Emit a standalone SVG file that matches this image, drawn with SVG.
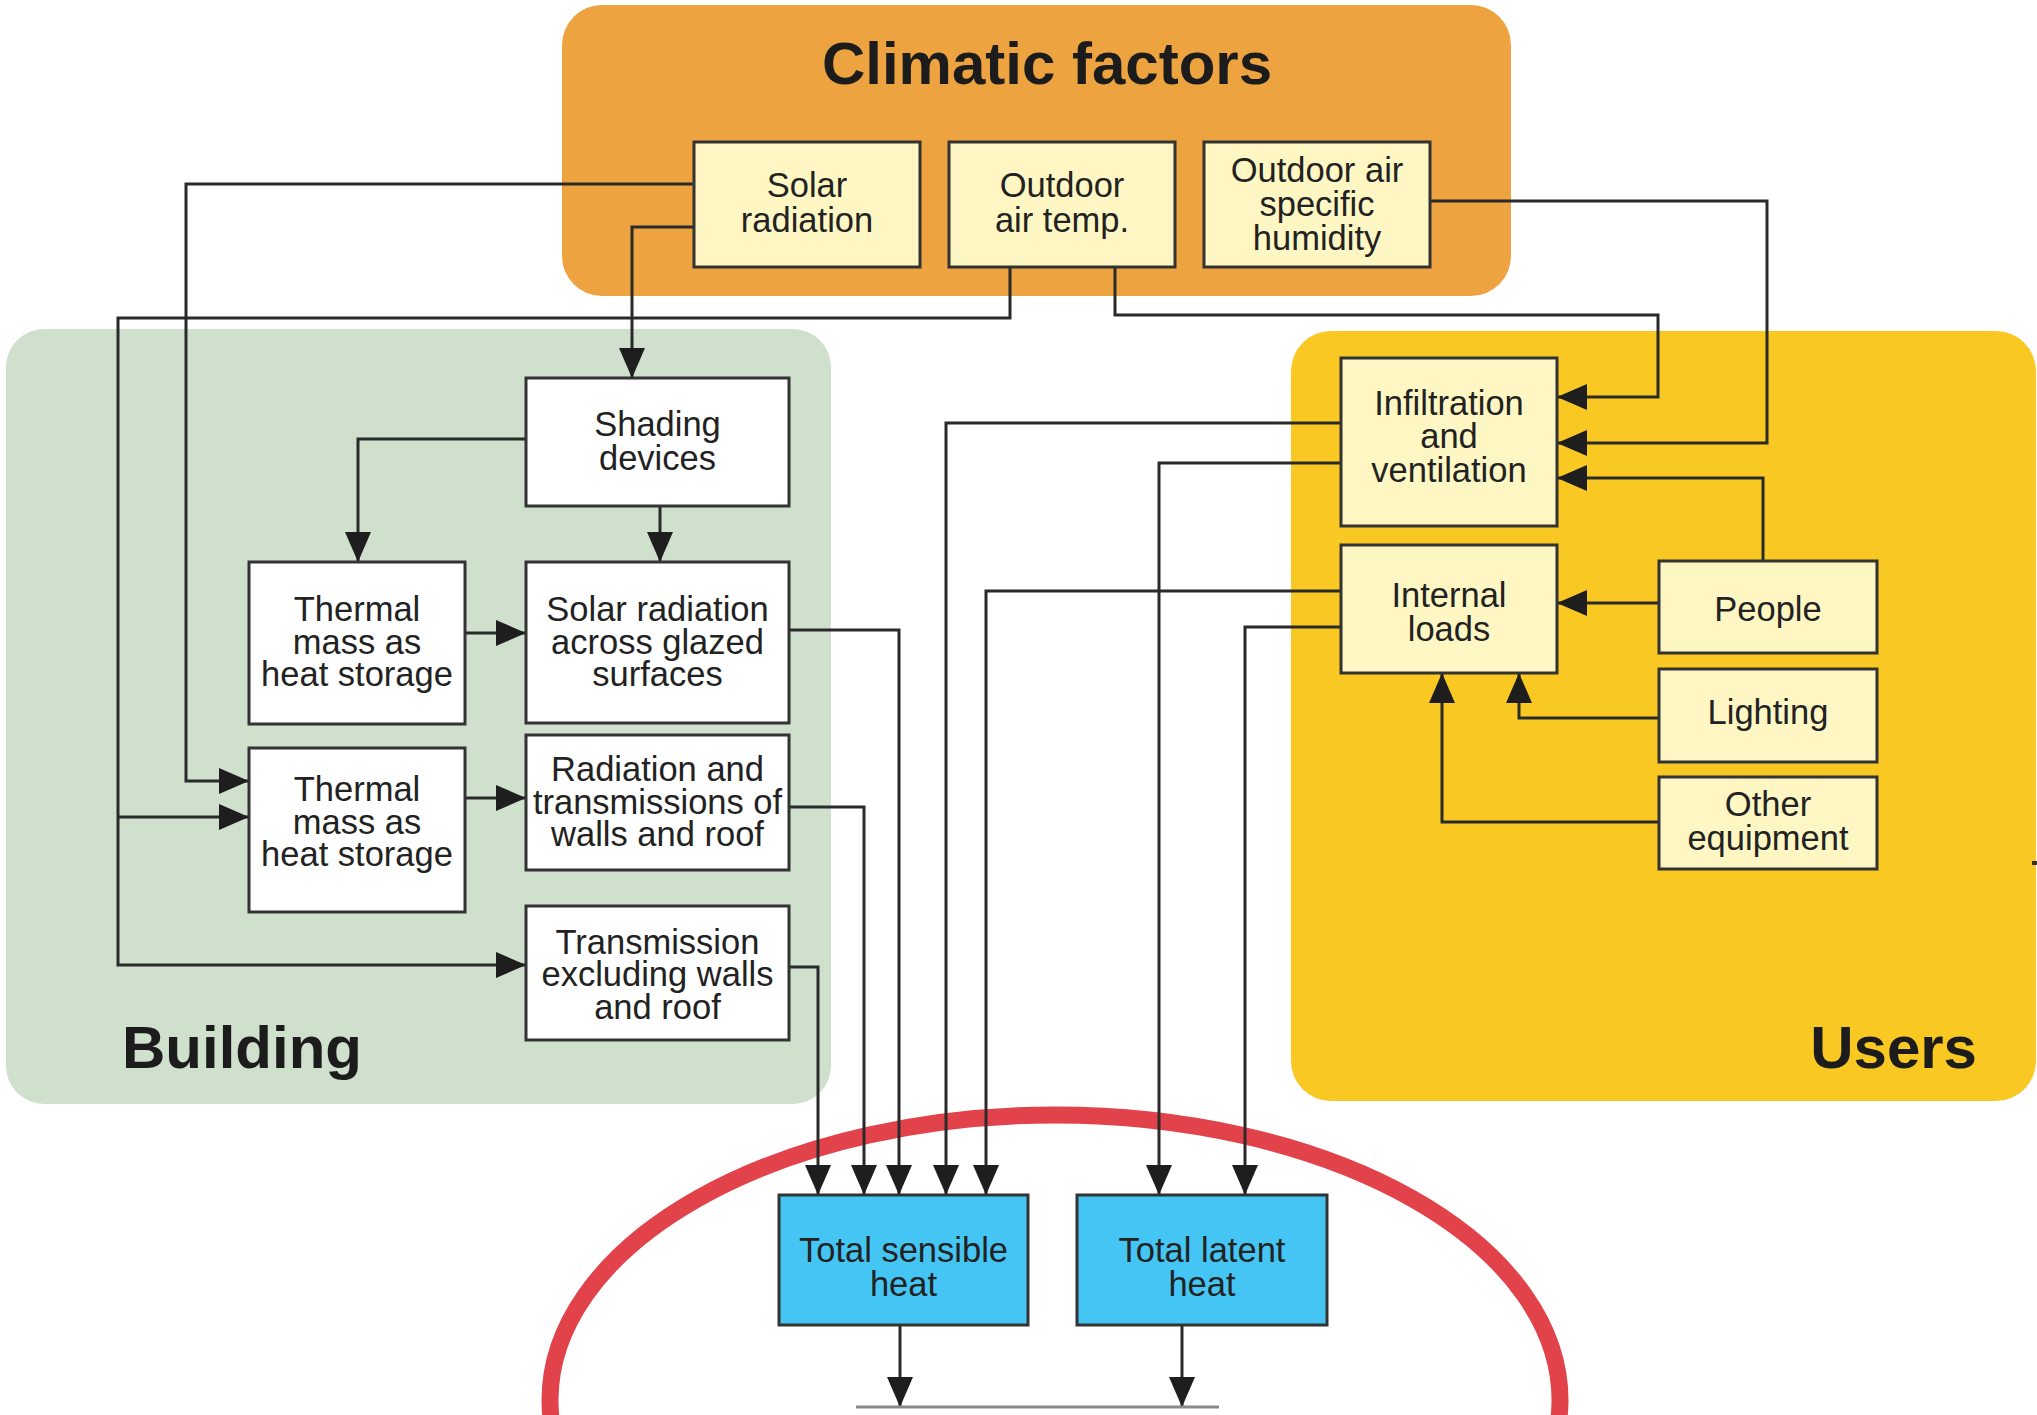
<svg xmlns="http://www.w3.org/2000/svg" width="2037" height="1415" viewBox="0 0 2037 1415">
  <defs>
    <style>
      .panel-climate { fill: #EDA33F; }
      .panel-building { fill: #CFE0CD; }
      .panel-users { fill: #F9C823; }
      .box { stroke: #333; stroke-width: 3; }
      .white { fill: #FFFFFF; }
      .pale { fill: #FFF7C3; }
      .blue { fill: #45C5F3; }
      .t { font-family: "Liberation Sans", Arial, sans-serif; font-size: 34.5px; fill: #222; text-anchor: middle; }
      .title { font-family: "Liberation Sans", Arial, sans-serif; font-size: 60px; font-weight: bold; fill: #1c1c1c; }
      .wire { fill: none; stroke: #2a2a2a; stroke-width: 3; }
      .arrow { marker-end: url(#head); }
    </style>
    <marker id="head" markerUnits="userSpaceOnUse" markerWidth="30" markerHeight="26" refX="30" refY="13" orient="auto">
      <path d="M0,0 L30,13 L0,26 Z" fill="#1e1e1e"/>
    </marker>
  </defs>

  <rect width="2037" height="1415" fill="#FFFFFF"/>

  <!-- grouping panels -->
  <g id="panels">
    <rect class="panel-climate" x="562" y="5" width="949" height="291" rx="40"/>
    <rect class="panel-building" x="6" y="329" width="825" height="775" rx="38"/>
    <rect class="panel-users" x="1291" y="331" width="745" height="770" rx="40"/>
    <text class="title" x="1047" y="84" text-anchor="middle">Climatic factors</text>
    <text class="title" x="122" y="1068">Building</text>
    <text class="title" x="1977" y="1068" text-anchor="end">Users</text>
  </g>

  <!-- boundary around the heat totals -->
  <ellipse id="boundary" cx="1055" cy="1400" rx="505" ry="285" fill="none" stroke="#E2434A" stroke-width="17"/>

  <!-- connectors -->
  <g id="connectors">
    <path class="wire arrow" d="M694,184 H186 V781 H249"/>
    <path class="wire arrow" d="M694,227 H632 V378"/>
    <path class="wire arrow" d="M1010,267 V318 H118 V965 H526"/>
    <path class="wire arrow" d="M118,817 H249"/>
    <path class="wire arrow" d="M1115,267 V315 H1658 V397 H1557"/>
    <path class="wire arrow" d="M1430,201 H1767 V443 H1557"/>
    <path class="wire arrow" d="M1763,561 V478 H1557"/>
    <path class="wire arrow" d="M1659,603 H1557"/>
    <path class="wire arrow" d="M1659,718 H1519 V673"/>
    <path class="wire arrow" d="M1659,822 H1442 V673"/>
    <path class="wire arrow" d="M526,439 H358 V562"/>
    <path class="wire arrow" d="M660,506 V562"/>
    <path class="wire arrow" d="M465,633 H526"/>
    <path class="wire arrow" d="M465,798 H526"/>
    <path class="wire arrow" d="M789,630 H899 V1195"/>
    <path class="wire arrow" d="M789,807 H864 V1195"/>
    <path class="wire arrow" d="M789,967 H818 V1195"/>
    <path class="wire arrow" d="M1341,423 H946 V1195"/>
    <path class="wire arrow" d="M1341,463 H1159 V1195"/>
    <path class="wire arrow" d="M1341,591 H986 V1195"/>
    <path class="wire arrow" d="M1341,627 H1245 V1195"/>
    <path class="wire arrow" d="M900,1325 V1407"/>
    <path class="wire arrow" d="M1182,1325 V1407"/>
    <path d="M856,1407 H1219" fill="none" stroke="#8a8a8a" stroke-width="3"/>
    <path d="M2032,863 H2037" fill="none" stroke="#333" stroke-width="4"/>
  </g>

  <!-- climatic factors -->
  <g id="solar-radiation">
    <rect class="box pale" x="694" y="142" width="226" height="125"/>
    <text class="t" x="807" y="197">Solar</text>
    <text class="t" x="807" y="232">radiation</text>
  </g>
  <g id="outdoor-air-temp">
    <rect class="box pale" x="949" y="142" width="226" height="125"/>
    <text class="t" x="1062" y="197">Outdoor</text>
    <text class="t" x="1062" y="232">air temp.</text>
  </g>
  <g id="outdoor-humidity">
    <rect class="box pale" x="1204" y="142" width="226" height="125"/>
    <text class="t" x="1317" y="182">Outdoor air</text>
    <text class="t" x="1317" y="216">specific</text>
    <text class="t" x="1317" y="250">humidity</text>
  </g>

  <!-- building -->
  <g id="shading-devices">
    <rect class="box white" x="526" y="378" width="263" height="128"/>
    <text class="t" x="657.5" y="436">Shading</text>
    <text class="t" x="657.5" y="470">devices</text>
  </g>
  <g id="thermal-mass-1">
    <rect class="box white" x="249" y="562" width="216" height="162"/>
    <text class="t" x="357" y="621">Thermal</text>
    <text class="t" x="357" y="654">mass as</text>
    <text class="t" x="357" y="686">heat storage</text>
  </g>
  <g id="solar-glazed">
    <rect class="box white" x="526" y="562" width="263" height="161"/>
    <text class="t" x="657.5" y="621">Solar radiation</text>
    <text class="t" x="657.5" y="654">across glazed</text>
    <text class="t" x="657.5" y="686">surfaces</text>
  </g>
  <g id="thermal-mass-2">
    <rect class="box white" x="249" y="748" width="216" height="164"/>
    <text class="t" x="357" y="801">Thermal</text>
    <text class="t" x="357" y="834">mass as</text>
    <text class="t" x="357" y="866">heat storage</text>
  </g>
  <g id="walls-roof">
    <rect class="box white" x="526" y="735" width="263" height="135"/>
    <text class="t" x="657.5" y="781">Radiation and</text>
    <text class="t" x="657.5" y="814">transmissions of</text>
    <text class="t" x="657.5" y="846">walls and roof</text>
  </g>
  <g id="transmission-other">
    <rect class="box white" x="526" y="906" width="263" height="134"/>
    <text class="t" x="657.5" y="954">Transmission</text>
    <text class="t" x="657.5" y="986">excluding walls</text>
    <text class="t" x="657.5" y="1019">and roof</text>
  </g>

  <!-- users -->
  <g id="infiltration">
    <rect class="box pale" x="1341" y="358" width="216" height="168"/>
    <text class="t" x="1449" y="415">Infiltration</text>
    <text class="t" x="1449" y="448">and</text>
    <text class="t" x="1449" y="482">ventilation</text>
  </g>
  <g id="internal-loads">
    <rect class="box pale" x="1341" y="545" width="216" height="128"/>
    <text class="t" x="1449" y="607">Internal</text>
    <text class="t" x="1449" y="641">loads</text>
  </g>
  <g id="people">
    <rect class="box pale" x="1659" y="561" width="218" height="92"/>
    <text class="t" x="1768" y="621">People</text>
  </g>
  <g id="lighting">
    <rect class="box pale" x="1659" y="669" width="218" height="93"/>
    <text class="t" x="1768" y="724">Lighting</text>
  </g>
  <g id="other-equipment">
    <rect class="box pale" x="1659" y="777" width="218" height="92"/>
    <text class="t" x="1768" y="816">Other</text>
    <text class="t" x="1768" y="850">equipment</text>
  </g>

  <!-- totals -->
  <g id="total-sensible">
    <rect class="box blue" x="779" y="1195" width="249" height="130"/>
    <text class="t" x="903.5" y="1262">Total sensible</text>
    <text class="t" x="903.5" y="1296">heat</text>
  </g>
  <g id="total-latent">
    <rect class="box blue" x="1077" y="1195" width="250" height="130"/>
    <text class="t" x="1202" y="1262">Total latent</text>
    <text class="t" x="1202" y="1296">heat</text>
  </g>
</svg>
